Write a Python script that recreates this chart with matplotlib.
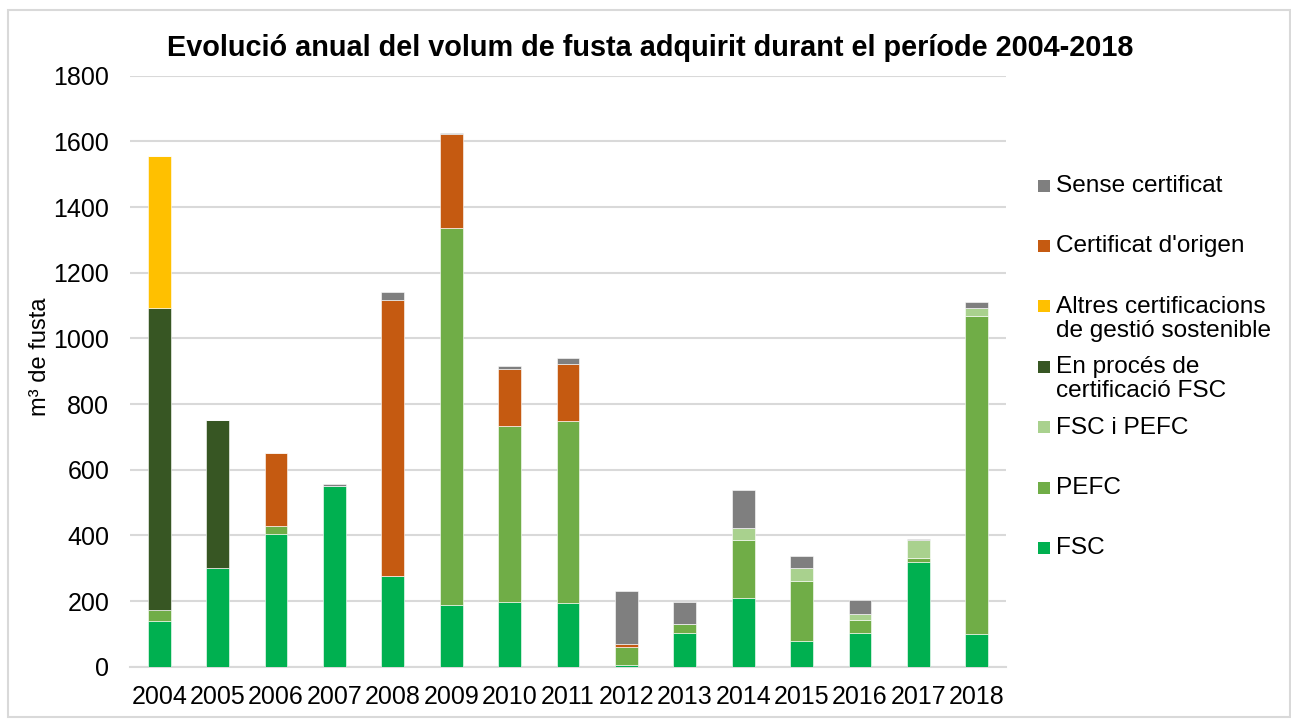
import matplotlib
matplotlib.use("Agg")
import matplotlib.pyplot as plt
from matplotlib.patches import Rectangle
import numpy as np

years = ["2004", "2005", "2006", "2007", "2008", "2009", "2010", "2011",
         "2012", "2013", "2014", "2015", "2016", "2017", "2018"]

fsc = [140, 300, 404, 550, 276, 187, 198, 194, 4, 104, 208, 79, 103, 318, 99]
pefc = [32, 0, 24, 0, 0, 1150, 535, 554, 57, 25, 177, 182, 39, 14, 968]
fsc_pefc = [0, 0, 0, 0, 0, 0, 0, 0, 0, 0, 36, 39, 19, 54, 24]
en_proces = [921, 450, 0, 0, 0, 0, 0, 0, 0, 0, 0, 0, 0, 0, 0]
altres = [463, 0, 0, 0, 0, 0, 0, 0, 0, 0, 0, 0, 0, 0, 0]
cert_origen = [0, 0, 224, 0, 841, 286, 174, 174, 8, 0, 0, 0, 0, 0, 0]
sense = [0, 0, 0, 5, 25, 3, 10, 18, 162, 67, 116, 36, 43, 4, 19]

series_names = ["FSC", "PEFC", "FSC i PEFC", "En procés de\ncertificació FSC",
                "Altres certificacions\nde gestió sostenible",
                "Certificat d'origen", "Sense certificat"]
series_values = [fsc, pefc, fsc_pefc, en_proces, altres, cert_origen, sense]
series_colors = ["#00B050", "#70AD47", "#A9D18E", "#375623",
                 "#FFC000", "#C55A11", "#7F7F7F"]

yticks = [0, 200, 400, 600, 800, 1000, 1200, 1400, 1600, 1800]

plt.rcParams['font.family'] = ['Liberation Sans', 'DejaVu Sans']

W, H = 1291, 719
fig = plt.figure(figsize=(W / 100, H / 100), dpi=100)
ax = fig.add_axes([130 / W, 1 - 666.7 / H, (1006 - 130) / W, (666.7 - 75.7) / H])

x = np.arange(len(years))
bottom = np.zeros(len(years))
for name, vals, col in zip(series_names, series_values, series_colors):
    v = np.array(vals, dtype=float)
    ax.bar(x, v, width=0.39, bottom=bottom, color=col, edgecolor="white",
           linewidth=0.4, zorder=3)
    bottom += v

ax.set_xlim(-0.5, len(years) - 0.5)
ax.set_ylim(0, 1800)
ax.set_yticks(yticks)
ax.set_yticklabels([str(t) for t in yticks])
ax.set_xticks(x)
ax.set_xticklabels(years)
ax.tick_params(axis="both", length=0, labelsize=18, colors="#000000")
ax.tick_params(axis="y", pad=15)
ax.tick_params(axis="x", pad=13)
ax.yaxis.grid(True, color="#D9D9D9", linewidth=1.5, zorder=0)
ax.set_axisbelow(True)
for s in ["top", "right", "left"]:
    ax.spines[s].set_visible(False)
ax.spines["bottom"].set_color("#D9D9D9")
ax.spines["bottom"].set_linewidth(1.5)

fig.text(40 / W, 1 - 357 / H, "m³ de fusta", rotation=90, ha="center",
         va="center", fontsize=17)

fig.text(650 / W, 1 - 48 / H,
         "Evolució anual del volum de fusta adquirit durant el període 2004-2018",
         ha="center", va="center", fontsize=20.8, fontweight="bold")

# legend (Excel style: evenly spaced entries, marker aligned with first line)
legend_order = list(range(len(series_names)))[::-1]
y0 = 185.5
step = 60.4
for i, idx in enumerate(legend_order):
    yc = y0 + i * step
    fig.patches.append(Rectangle((1038 / W, 1 - (yc + 6) / H), 12 / W, 12 / H,
                                 transform=fig.transFigure, facecolor=series_colors[idx],
                                 edgecolor="none"))
    fig.text(1056 / W, 1 - (yc - 10.5) / H, series_names[idx], ha="left", va="top",
             fontsize=17.6, linespacing=1.1)

# chart border
fig.patches.append(Rectangle((8 / W, 2 / H), 1282 / W, 707 / H, transform=fig.transFigure,
                             facecolor="none", edgecolor="#D9D9D9", linewidth=1.5))

fig.savefig("out.png", dpi=100)
